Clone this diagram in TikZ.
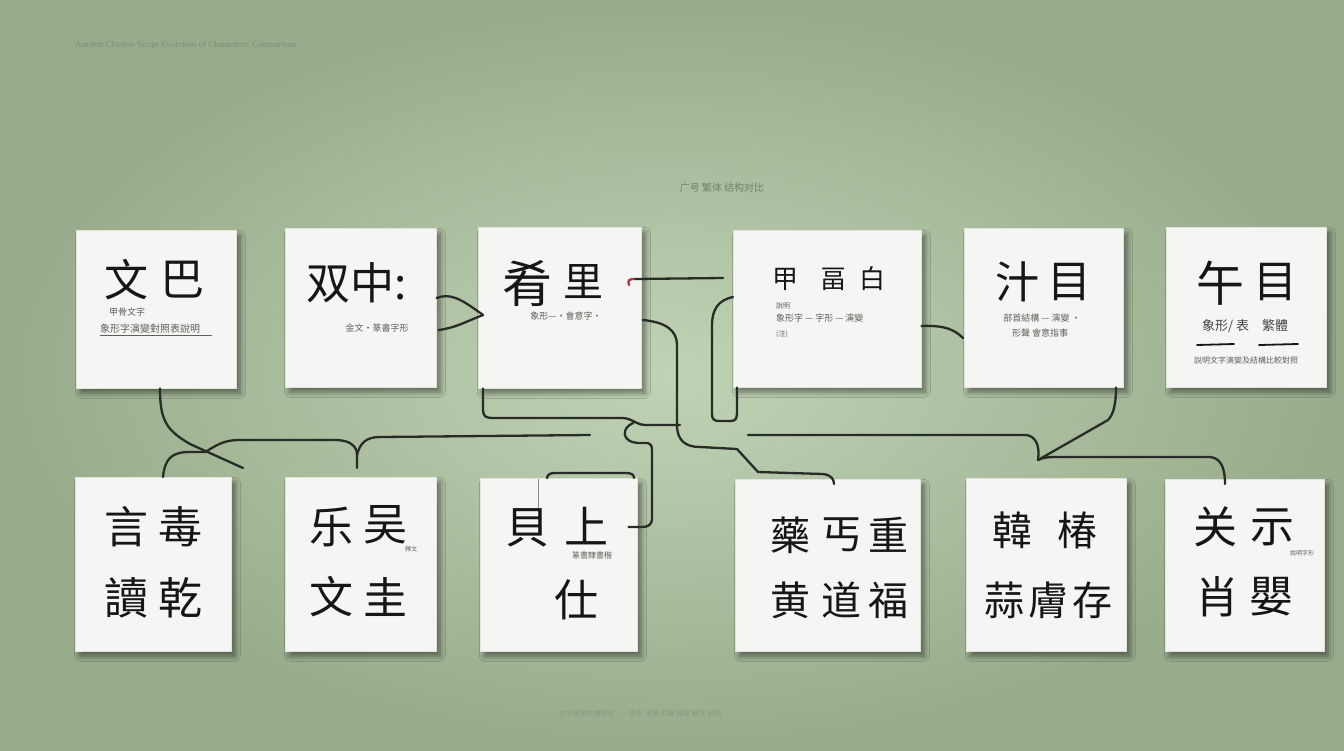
\documentclass[tikz,border=0pt]{standalone}
\usepackage{fontspec}
\setmainfont{Liberation Serif}
\newfontfamily\cjk{Noto Sans CJK SC}
\usetikzlibrary{shadows,shadows.blur,calc}
\definecolor{bgin}{RGB}{192,211,181}
\definecolor{bgout}{RGB}{152,171,138}
\definecolor{wire}{RGB}{40,44,38}
\definecolor{paper}{RGB}{245,245,243}
\definecolor{paperedge}{RGB}{226,226,222}
\definecolor{ink}{RGB}{22,22,22}
\definecolor{soft}{RGB}{95,95,92}
\definecolor{ghost}{RGB}{128,142,118}
\definecolor{redtip}{RGB}{170,60,70}
\definecolor{shadowc}{RGB}{40,55,35}
\tikzset{
  card/.style={draw=paperedge, line width=0.6pt, fill=paper, anchor=north west, inner sep=0pt,
    blur shadow={shadow xshift=4pt, shadow yshift=-5pt, shadow blur radius=5pt, shadow blur steps=8, shadow opacity=45}},
  wire/.style={draw=wire, line width=2.3pt, line cap=round, line join=round},
  bigch/.style={font=\cjk\fontsize{44}{48}\selectfont, text=ink, inner sep=0pt},
  midch/.style={font=\cjk\fontsize{40}{44}\selectfont, text=ink, inner sep=0pt},
  smallch/.style={font=\cjk\fontsize{26}{30}\selectfont, text=ink, inner sep=0pt},
  note/.style={font=\cjk\fontsize{9}{11}\selectfont, text=soft, inner sep=0pt},
  ghosttext/.style={font=\fontsize{9}{11}\selectfont, text=ghost, inner sep=0pt}
}
\begin{document}
\begin{tikzpicture}[x=1pt,y=-1pt]
\useasboundingbox (0,0) rectangle (1344,750);
\shade[inner color=bgin, outer color=bgout] (0,0) rectangle (1344,750);

% faint titles
\node[ghosttext, anchor=west] (hdr) at (75,45) {Ancient Chinese Script Evolution of Characters: Comparison};
\node[font=\cjk\fontsize{10}{12}\selectfont, text=ghost!90!black, inner sep=0pt] (sub) at (722,188) {广号 繁体 结构对比};
\node[font=\cjk\fontsize{7}{9}\selectfont, text=ghost, opacity=0.6, inner sep=0pt] (foot) at (640,714) {文字演變結構對照 —— 象形 會意 形聲 指事 轉注 假借};

% top row cards
\node[card, minimum width=160, minimum height=158] (t1) at (76,230) {};
\node[card, minimum width=151, minimum height=159] (t2) at (285,228) {};
\node[card, minimum width=163, minimum height=161] (t3) at (478,227) {};
\node[card, minimum width=188, minimum height=157] (t4) at (733,230) {};
\node[card, minimum width=159, minimum height=159] (t5) at (964,228) {};
\node[card, minimum width=160, minimum height=160] (t6) at (1166,227) {};
% bottom row cards
\node[card, minimum width=156, minimum height=174] (b1) at (75,477) {};
\node[card, minimum width=151, minimum height=174] (b2) at (285,477) {};
\node[card, minimum width=157, minimum height=173] (b3) at (480,478) {};
\node[card, minimum width=185, minimum height=172] (b4) at (735,479) {};
\node[card, minimum width=160, minimum height=173] (b5) at (966,478) {};
\node[card, minimum width=159, minimum height=172] (b6) at (1165,479) {};

% ---- connectors ----
\coordinate (aEnd) at (243,468);
\draw[wire] ($(t1.south west)+(84,0)$) .. controls (160,420) and (166,430) .. (190,444) -- (aEnd);

\coordinate (bEnd) at (357,468);
\coordinate (bFree) at (590,435);
\draw[wire] ($(b1.north west)+(88,0)$) .. controls (165,458) and (172,452) .. (190,452) -- (205,452)
  .. controls (216,446) and (222,440) .. (240,440) -- (335,440)
  .. controls (350,440) and (357,446) .. (357,455) -- (bEnd);
\draw[wire] (357,455) .. controls (360,443) and (366,437) .. (380,437) -- (bFree);

\coordinate (cFree) at (680,425);
\draw[wire] ($(t3.south west)+(5,0)$) -- (483,410) .. controls (483,416) and (486,418) .. (492,418) -- (622,418)
  .. controls (632,418) and (636,425) .. (646,425) -- (cFree);
\draw[wire] (633,423) .. controls (621,428) and (621,443) .. (640,443) -- (646,443)
  .. controls (650,443) and (652,445) .. (652,450) -- (652,518)
  .. controls (652,525) and (648,527) .. (642,527) -- ($(b3.north east)+(-9,49)$);

\draw[wire] ($(t3.north east)+(1,93)$) .. controls (665,322) and (677,330) .. (677,345) -- (677,425)
  .. controls (677,440) and (685,447) .. (700,447) -- (737,449) -- (758,472) -- (823,474)
  .. controls (831,475) and (834,479) .. ($(b4.north west)+(99,5)$);

\draw[wire] ($(t4.north west)+(0,67)$) .. controls (718,300) and (712,310) .. (712,325) -- (712,414)
  .. controls (712,419) and (714,421) .. (719,421) -- (731,421) .. controls (736,421) and (737,418) .. (737,412)
  -- ($(t4.south west)+(4,0)$);

\coordinate (fA) at (634,279);
\coordinate (fB) at (723,278);
\draw[wire] (fA) -- (fB);
\draw[draw=redtip, line width=2.3pt, line cap=round] (629,285) .. controls (627,280) and (630,279) .. (fA);

\coordinate (gStart) at (748,435);
\coordinate (jn) at (1038,460);
\draw[wire] (gStart) -- (1026,435) .. controls (1036,436) and (1040,446) .. (jn);
\draw[wire] (jn) -- (1108,420) .. controls (1114,414) and (1116,402) .. ($(t5.south west)+(152,0)$);
\draw[wire] (jn) .. controls (1044,457) and (1050,457) .. (1060,457) -- (1210,457)
  .. controls (1221,458) and (1225,468) .. ($(b6.north west)+(60,5)$);

\draw[wire] ($(t4.north east)+(0,96)$) .. controls (945,325) and (955,330) .. ($(t5.north west)+(-1,110)$);

\draw[wire] ($(t2.north east)+(0,70)$) .. controls (450,293) and (460,298) .. ($(t3.north west)+(5,88)$);
\draw[wire] ($(t2.north east)+(2,102)$) .. controls (455,328) and (465,322) .. ($(t3.north west)+(5,88)$);

\draw[wire] ($(b3.north west)+(67,0)$) .. controls (548,474) and (550,473) .. (556,473) -- (626,473)
  .. controls (632,473) and (634,475) .. ($(b3.north west)+(154,0)$);
\draw[draw=black!45, line width=1pt] ($(b3.north west)+(58,1)$) -- ($(b3.north west)+(58,34)$);

% ---- card texts: top ----
\node[bigch] (t1a) at (126,280) {文};
\node[bigch] (t1b) at (182,280) {巴};
\node[note] (t1c) at (127,312) {甲骨文字};
\node[note, font=\cjk\fontsize{10}{12}\selectfont] (t1d) at (150,329) {象形字演變對照表說明};
\draw[draw=soft, line width=0.9pt] ($(t1d.south west)+(0,2)$) -- ($(t1d.south east)+(12,2)$);

\node[bigch] (t2a) at (357,283) {双中:};
\node[note] (t2b) at (377,328) {金文·篆書字形};

\node[bigch, font=\cjk\fontsize{50}{54}\selectfont] (t3a) at (527,283) {肴};
\node[midch] (t3b) at (583,282) {里};
\node[note] (t3c) at (566,316) {象形—·會意字·};

\node[smallch] (t4a) at (785,279) {甲};
\node[smallch] (t4b) at (833,279) {畐};
\node[smallch] (t4c) at (872,279) {白};
\node[note, font=\cjk\fontsize{7}{9}\selectfont, anchor=west] (t4d) at (776,306) {說明};
\node[note, anchor=west] (t4e) at (776,318) {象形字 — 字形 — 演變};
\node[note, font=\cjk\fontsize{7}{9}\selectfont, anchor=west] (t4f) at (776,334) {(注)};

\node[bigch] (t5a) at (1017,282) {汁};
\node[bigch] (t5b) at (1069,282) {目};
\node[note] (t5c) at (1042,318) {部首結構 — 演變 ·};
\node[note] (t5d) at (1040,333) {形聲 會意指事};

\node[bigch, font=\cjk\fontsize{48}{52}\selectfont] (t6a) at (1220,283) {午};
\node[bigch] (t6b) at (1275,282) {目};
\node[note, font=\cjk\fontsize{13}{15}\selectfont, text=ink!80] (t6c) at (1245,326) {象形/ 表\quad 繁體};
\draw[draw=ink, line width=1.8pt, line cap=round] (1197,345) -- (1234,344);
\draw[draw=ink, line width=1.8pt, line cap=round] (1259,345) -- (1298,344);
\node[note, font=\cjk\fontsize{8}{10}\selectfont] (t6d) at (1246,360) {說明文字演變及結構比較對照};

% ---- card texts: bottom ----
\node[bigch] (b1a) at (126,527) {言};
\node[bigch] (b1b) at (180,527) {毒};
\node[bigch] (b1c) at (126,598) {讀};
\node[bigch] (b1d) at (180,598) {乾};

\node[bigch] (b2a) at (331,527) {乐};
\node[bigch] (b2b) at (385,525) {吴};
\node[note, font=\cjk\fontsize{6}{8}\selectfont] (b2e) at (411,549) {釋文};
\node[bigch] (b2c) at (331,597) {文};
\node[bigch] (b2d) at (385,597) {圭};

\node[bigch] (b3a) at (527,528) {貝};
\node[bigch] (b3b) at (586,526) {上};
\node[note, font=\cjk\fontsize{8}{10}\selectfont] (b3c) at (592,555) {篆書隸書楷};
\node[bigch] (b3d) at (576,600) {仕};

\node[midch] (b4a) at (790,535) {藥};
\node[midch] (b4b) at (841,535) {丐};
\node[midch] (b4c) at (888,535) {重};
\node[midch] (b4d) at (790,600) {黄};
\node[midch] (b4e) at (841,600) {道};
\node[midch] (b4f) at (888,600) {福};

\node[midch] (b5a) at (1012,530) {韓};
\node[midch] (b5b) at (1077,530) {椿};
\node[midch] (b5c) at (1004,600) {蒜};
\node[midch] (b5d) at (1048,600) {膚};
\node[midch] (b5e) at (1092,600) {存};

\node[bigch] (b6a) at (1215,527) {关};
\node[bigch] (b6b) at (1272,527) {示};
\node[note, font=\cjk\fontsize{6}{8}\selectfont] (b6e) at (1302,553) {說明字形};
\node[bigch] (b6c) at (1217,597) {肖};
\node[bigch] (b6d) at (1271,597) {嬰};
\end{tikzpicture}
\end{document}
